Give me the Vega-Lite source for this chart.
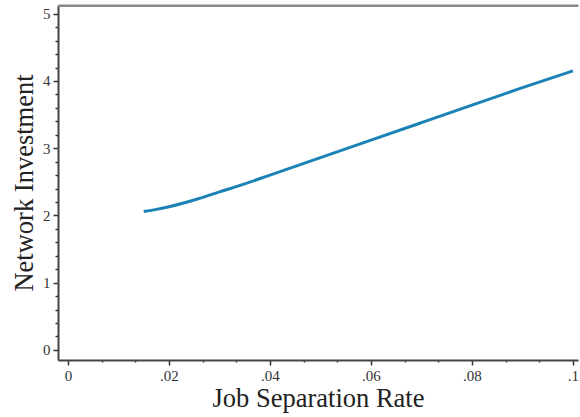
{
  "$schema": "https://vega.github.io/schema/vega-lite/v6.json",
  "autosize": "none",
  "width": 520,
  "height": 355,
  "padding": {"left": 58, "top": 5, "right": 2, "bottom": 57},
  "background": "white",
  "config": {
    "view": {"stroke": null},
    "axis": {"labelFont": "Liberation Serif", "titleFont": "Liberation Serif", "grid": false}
  },
  "data": {
    "values": [
      {"rate": 0.015, "inv": 2.06},
      {"rate": 0.0175, "inv": 2.09},
      {"rate": 0.02, "inv": 2.13},
      {"rate": 0.025, "inv": 2.23},
      {"rate": 0.03, "inv": 2.35},
      {"rate": 0.035, "inv": 2.47},
      {"rate": 0.04, "inv": 2.6},
      {"rate": 0.05, "inv": 2.86},
      {"rate": 0.06, "inv": 3.12},
      {"rate": 0.07, "inv": 3.38},
      {"rate": 0.08, "inv": 3.64},
      {"rate": 0.09, "inv": 3.9},
      {"rate": 0.1, "inv": 4.15}
    ]
  },
  "resolve": {"axis": {"x": "independent", "y": "independent"}},
  "layer": [
    {
      "mark": {"type": "line", "color": "#1a82b4", "strokeWidth": 3, "interpolate": "monotone"},
      "encoding": {
        "x": {
          "field": "rate", "type": "quantitative",
          "scale": {"domain": [-0.00198, 0.101], "nice": false, "zero": false},
          "axis": {
            "title": "Job Separation Rate",
            "titleFontSize": 26.5, "titleFontWeight": "normal", "titleColor": "#222",
            "titlePadding": 2,
            "values": [0, 0.006667, 0.013333, 0.02, 0.026667, 0.033333, 0.04, 0.046667, 0.053333, 0.06, 0.066667, 0.073333, 0.08, 0.086667, 0.093333, 0.1],
            "labelExpr": "abs(datum.value*50 - round(datum.value*50)) < 0.001 ? replace(format(datum.value, '.2~f'), '0.', '.') : ''",
            "labelFontSize": 15, "labelColor": "#333", "labelOverlap": false, "labelFlush": false, "labelPadding": 3,
            "tickSize": {"condition": {"test": "abs(datum.value*50 - round(datum.value*50)) < 0.001", "value": 5}, "value": 2},
            "tickColor": "#333", "tickWidth": 1.5,
            "domainColor": "#444", "domainWidth": 2
          }
        },
        "y": {
          "field": "inv", "type": "quantitative",
          "scale": {"domain": [-0.15, 5.13], "nice": false, "zero": false},
          "axis": {
            "title": "Network Investment",
            "titleFontSize": 26.5, "titleFontWeight": "normal", "titleColor": "#222",
            "titlePadding": 4,
            "values": [0, 0.2, 0.4, 0.6, 0.8, 1, 1.2, 1.4, 1.6, 1.8, 2, 2.2, 2.4, 2.6, 2.8, 3, 3.2, 3.4, 3.6, 3.8, 4, 4.2, 4.4, 4.6, 4.8, 5],
            "labelExpr": "abs(datum.value - round(datum.value)) < 0.001 ? format(datum.value, 'd') : ''",
            "labelFontSize": 15, "labelColor": "#333", "labelOverlap": false, "labelFlush": false, "labelPadding": 3,
            "tickSize": {"condition": {"test": "abs(datum.value - round(datum.value)) < 0.001", "value": 5}, "value": 3},
            "tickColor": "#333", "tickWidth": 1.5,
            "domainColor": "#444", "domainWidth": 2
          }
        }
      }
    },
    {
      "data": {"values": [{"x0": -0.00198, "x1": 0.101, "top": 5.115}]},
      "mark": {"type": "rule", "color": "#888", "strokeWidth": 2},
      "encoding": {
        "x": {
          "field": "x0", "type": "quantitative",
          "axis": {"orient": "top", "labels": false, "ticks": false, "title": null, "domainColor": "#888", "domainWidth": 2}
        },
        "x2": {"field": "x1"},
        "y": {"field": "top", "type": "quantitative", "axis": null}
      }
    }
  ]
}
